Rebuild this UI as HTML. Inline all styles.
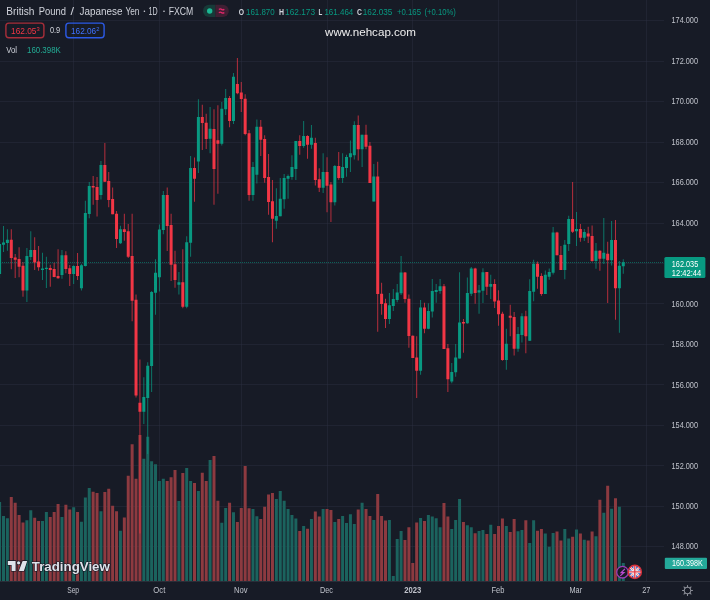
<!DOCTYPE html><html><head><meta charset="utf-8"><style>
html,body{margin:0;padding:0;width:710px;height:600px;overflow:hidden;background:#171b26}
svg{position:absolute;left:0;top:0;will-change:transform;font-family:"Liberation Sans",sans-serif}
</style></head><body>
<svg width="710" height="600" viewBox="0 0 710 600">
<rect x="0" y="0" width="710" height="600" fill="#171b26"/>
<path d="M0 20.5H664M0 61.5H664M0 101.5H664M0 142.5H664M0 182.5H664M0 223.5H664M0 263.5H664M0 303.5H664M0 344.5H664M0 384.5H664M0 425.5H664M0 465.5H664M0 506.5H664M0 546.5H664" stroke="#2e3342" stroke-opacity="0.42" stroke-width="1" fill="none"/>
<path d="M73.5 0V581M159.5 0V581M241.5 0V581M327.5 0V581M412.5 0V581M498.5 0V581M576.5 0V581M646.5 0V581" stroke="#2e3342" stroke-opacity="0.42" stroke-width="1" fill="none"/>
<path d="M-1.90 502.00h3V581h-3ZM2.00 516.00h3V581h-3ZM5.90 518.30h3V581h-3ZM25.39 520.30h3V581h-3ZM29.28 510.20h3V581h-3ZM40.98 521.00h3V581h-3ZM44.88 512.10h3V581h-3ZM60.47 517.00h3V581h-3ZM72.16 507.30h3V581h-3ZM79.96 521.70h3V581h-3ZM83.86 497.50h3V581h-3ZM87.75 488.00h3V581h-3ZM99.45 511.30h3V581h-3ZM118.94 530.80h3V581h-3ZM142.33 458.70h3V581h-3ZM146.22 436.70h3V581h-3ZM150.12 461.30h3V581h-3ZM154.02 464.20h3V581h-3ZM157.92 481.00h3V581h-3ZM161.82 478.70h3V581h-3ZM177.41 501.00h3V581h-3ZM185.20 468.00h3V581h-3ZM189.10 481.00h3V581h-3ZM196.90 491.00h3V581h-3ZM208.59 460.00h3V581h-3ZM220.29 522.70h3V581h-3ZM224.18 508.00h3V581h-3ZM231.98 512.30h3V581h-3ZM251.47 509.00h3V581h-3ZM255.37 516.30h3V581h-3ZM274.86 499.00h3V581h-3ZM278.76 491.00h3V581h-3ZM282.65 500.70h3V581h-3ZM286.55 509.00h3V581h-3ZM290.45 515.00h3V581h-3ZM294.35 518.40h3V581h-3ZM302.14 526.00h3V581h-3ZM309.94 519.00h3V581h-3ZM321.63 509.00h3V581h-3ZM333.33 522.00h3V581h-3ZM341.12 516.00h3V581h-3ZM345.02 523.00h3V581h-3ZM348.92 514.30h3V581h-3ZM352.82 524.00h3V581h-3ZM360.61 502.70h3V581h-3ZM372.31 520.00h3V581h-3ZM387.90 520.00h3V581h-3ZM391.80 575.90h3V581h-3ZM395.70 539.00h3V581h-3ZM399.59 531.00h3V581h-3ZM419.08 518.00h3V581h-3ZM426.88 515.00h3V581h-3ZM430.78 516.40h3V581h-3ZM434.68 518.30h3V581h-3ZM438.57 527.30h3V581h-3ZM450.27 529.00h3V581h-3ZM454.17 520.00h3V581h-3ZM458.06 499.00h3V581h-3ZM465.86 525.30h3V581h-3ZM469.76 527.30h3V581h-3ZM477.55 531.00h3V581h-3ZM481.45 530.00h3V581h-3ZM489.25 524.70h3V581h-3ZM504.84 526.00h3V581h-3ZM516.53 531.30h3V581h-3ZM520.43 530.00h3V581h-3ZM528.23 543.00h3V581h-3ZM532.13 520.30h3V581h-3ZM543.82 533.60h3V581h-3ZM547.72 546.80h3V581h-3ZM551.62 533.00h3V581h-3ZM563.31 528.90h3V581h-3ZM567.21 538.40h3V581h-3ZM575.00 529.40h3V581h-3ZM582.80 539.70h3V581h-3ZM594.49 536.20h3V581h-3ZM602.29 512.70h3V581h-3ZM610.09 508.80h3V581h-3ZM617.88 506.70h3V581h-3ZM621.78 563.10h3V581h-3Z" fill="#1b635e"/>
<path d="M9.79 497.10h3V581h-3ZM13.69 502.80h3V581h-3ZM17.59 515.00h3V581h-3ZM21.49 522.60h3V581h-3ZM33.18 517.70h3V581h-3ZM37.08 521.00h3V581h-3ZM48.77 517.00h3V581h-3ZM52.67 512.10h3V581h-3ZM56.57 503.90h3V581h-3ZM64.37 504.80h3V581h-3ZM68.26 509.50h3V581h-3ZM76.06 512.10h3V581h-3ZM91.65 491.70h3V581h-3ZM95.55 493.00h3V581h-3ZM103.35 492.00h3V581h-3ZM107.24 488.70h3V581h-3ZM111.14 505.80h3V581h-3ZM115.04 511.30h3V581h-3ZM122.84 517.50h3V581h-3ZM126.73 475.80h3V581h-3ZM130.63 444.20h3V581h-3ZM134.53 478.70h3V581h-3ZM138.43 435.00h3V581h-3ZM165.71 481.00h3V581h-3ZM169.61 477.30h3V581h-3ZM173.51 470.00h3V581h-3ZM181.31 473.00h3V581h-3ZM193.00 483.00h3V581h-3ZM200.80 472.70h3V581h-3ZM204.69 481.00h3V581h-3ZM212.49 456.00h3V581h-3ZM216.39 500.70h3V581h-3ZM228.08 502.70h3V581h-3ZM235.88 522.00h3V581h-3ZM239.78 508.00h3V581h-3ZM243.67 466.00h3V581h-3ZM247.57 508.30h3V581h-3ZM259.27 519.00h3V581h-3ZM263.16 506.70h3V581h-3ZM267.06 494.40h3V581h-3ZM270.96 493.00h3V581h-3ZM298.25 531.00h3V581h-3ZM306.04 528.70h3V581h-3ZM313.84 511.60h3V581h-3ZM317.74 516.40h3V581h-3ZM325.53 509.00h3V581h-3ZM329.43 510.00h3V581h-3ZM337.23 519.00h3V581h-3ZM356.72 509.60h3V581h-3ZM364.51 509.00h3V581h-3ZM368.41 516.00h3V581h-3ZM376.21 494.00h3V581h-3ZM380.10 516.00h3V581h-3ZM384.00 520.40h3V581h-3ZM403.49 540.00h3V581h-3ZM407.39 527.30h3V581h-3ZM411.29 563.00h3V581h-3ZM415.19 522.40h3V581h-3ZM422.98 521.00h3V581h-3ZM442.47 503.00h3V581h-3ZM446.37 516.40h3V581h-3ZM461.96 522.00h3V581h-3ZM473.66 533.30h3V581h-3ZM485.35 534.00h3V581h-3ZM493.15 534.00h3V581h-3ZM497.04 526.00h3V581h-3ZM500.94 518.40h3V581h-3ZM508.74 532.00h3V581h-3ZM512.64 519.00h3V581h-3ZM524.33 520.30h3V581h-3ZM536.02 530.70h3V581h-3ZM539.92 528.90h3V581h-3ZM555.51 531.40h3V581h-3ZM559.41 540.50h3V581h-3ZM571.11 536.80h3V581h-3ZM578.90 533.60h3V581h-3ZM586.70 540.50h3V581h-3ZM590.60 531.40h3V581h-3ZM598.39 499.80h3V581h-3ZM606.19 485.80h3V581h-3ZM613.98 498.20h3V581h-3Z" fill="#8d3a40"/>
<line x1="0" y1="262.5" x2="664" y2="262.5" stroke="#089981" stroke-width="1" stroke-dasharray="1,1" stroke-opacity="0.55"/>
<path d="M-0.90 240.00h1V278.00h-1ZM3.00 226.00h1V252.00h-1ZM6.90 229.30h1V250.70h-1ZM26.39 248.00h1V302.00h-1ZM30.28 231.30h1V260.00h-1ZM41.98 252.70h1V280.00h-1ZM45.88 256.70h1V288.00h-1ZM61.47 250.00h1V278.70h-1ZM73.16 265.30h1V284.00h-1ZM80.96 264.00h1V290.40h-1ZM84.86 200.70h1V266.50h-1ZM88.75 182.00h1V218.30h-1ZM100.45 161.00h1V199.60h-1ZM119.94 225.70h1V244.00h-1ZM143.33 377.30h1V424.00h-1ZM147.22 362.30h1V454.00h-1ZM151.12 291.00h1V392.00h-1ZM155.02 259.30h1V314.70h-1ZM158.92 224.60h1V291.50h-1ZM162.82 191.00h1V234.20h-1ZM178.41 272.00h1V294.50h-1ZM186.20 236.30h1V308.30h-1ZM190.10 156.00h1V256.70h-1ZM197.90 99.30h1V173.00h-1ZM209.59 107.00h1V153.30h-1ZM221.29 102.00h1V145.60h-1ZM225.18 89.00h1V115.00h-1ZM232.98 73.00h1V124.00h-1ZM252.47 162.00h1V200.80h-1ZM256.37 119.60h1V183.40h-1ZM275.86 188.30h1V228.70h-1ZM279.76 178.00h1V216.30h-1ZM283.65 174.00h1V208.70h-1ZM287.55 174.40h1V198.70h-1ZM291.45 155.30h1V179.70h-1ZM295.35 141.00h1V180.00h-1ZM303.14 121.00h1V147.70h-1ZM310.94 125.00h1V148.70h-1ZM322.63 153.30h1V193.00h-1ZM334.33 165.00h1V205.40h-1ZM342.12 153.30h1V183.00h-1ZM346.02 154.70h1V176.70h-1ZM349.92 140.40h1V172.00h-1ZM353.82 121.30h1V159.60h-1ZM361.61 134.70h1V167.00h-1ZM373.31 164.00h1V201.40h-1ZM388.90 293.00h1V324.00h-1ZM392.80 289.00h1V311.00h-1ZM396.70 284.00h1V302.30h-1ZM400.59 256.00h1V295.00h-1ZM420.08 300.00h1V374.70h-1ZM427.88 303.30h1V329.30h-1ZM431.78 279.00h1V317.50h-1ZM435.68 284.00h1V302.70h-1ZM439.57 279.00h1V293.70h-1ZM451.27 363.00h1V383.30h-1ZM455.17 344.00h1V376.70h-1ZM459.06 272.30h1V358.40h-1ZM466.86 277.40h1V323.70h-1ZM470.76 267.00h1V296.00h-1ZM478.55 285.00h1V313.70h-1ZM482.45 268.30h1V303.00h-1ZM490.25 274.70h1V299.00h-1ZM505.84 328.75h1V369.80h-1ZM517.53 327.00h1V351.70h-1ZM521.43 313.30h1V342.50h-1ZM529.23 279.30h1V341.00h-1ZM533.13 259.70h1V301.30h-1ZM544.82 270.50h1V294.00h-1ZM548.72 268.50h1V279.70h-1ZM552.62 227.00h1V274.60h-1ZM564.31 240.00h1V279.30h-1ZM568.21 215.70h1V251.00h-1ZM576.00 212.00h1V246.00h-1ZM583.80 229.00h1V241.00h-1ZM595.49 243.00h1V268.80h-1ZM603.29 218.00h1V264.00h-1ZM611.09 221.00h1V265.50h-1ZM618.88 261.00h1V332.70h-1ZM622.78 259.20h1V273.75h-1Z" fill="#089981" fill-opacity="0.72"/>
<path d="M-1.90 244.00h3v30.00h-3ZM2.00 242.40h3v2.30h-3ZM5.90 239.70h3v3.20h-3ZM25.39 256.00h3v34.40h-3ZM29.28 250.00h3v7.00h-3ZM40.98 268.50h3v1.40h-3ZM44.88 267.70h3v1.30h-3ZM60.47 255.30h3v19.70h-3ZM72.16 266.00h3v8.00h-3ZM79.96 265.30h3v23.00h-3ZM83.86 213.00h3v53.00h-3ZM87.75 186.00h3v28.00h-3ZM99.45 165.00h3v30.00h-3ZM118.94 229.30h3v14.00h-3ZM142.33 397.00h3v14.80h-3ZM146.22 365.70h3v32.30h-3ZM150.12 292.00h3v74.00h-3ZM154.02 272.70h3v20.00h-3ZM157.92 229.50h3v47.70h-3ZM161.82 195.10h3v35.00h-3ZM177.41 282.20h3v2.50h-3ZM185.20 242.30h3v64.50h-3ZM189.10 168.00h3v74.70h-3ZM196.90 117.00h3v44.60h-3ZM208.59 128.70h3v10.00h-3ZM220.29 108.70h3v35.00h-3ZM224.18 98.00h3v11.30h-3ZM231.98 76.70h3v44.30h-3ZM251.47 167.00h3v28.00h-3ZM255.37 126.70h3v48.00h-3ZM274.86 216.00h3v4.70h-3ZM278.76 198.70h3v17.60h-3ZM282.65 178.00h3v21.30h-3ZM286.55 176.00h3v2.70h-3ZM290.45 167.00h3v10.00h-3ZM294.35 141.00h3v28.00h-3ZM302.14 136.00h3v10.00h-3ZM309.94 137.70h3v7.00h-3ZM321.63 172.00h3v15.70h-3ZM333.33 166.00h3v36.30h-3ZM341.12 167.00h3v11.00h-3ZM345.02 157.00h3v11.00h-3ZM348.92 153.30h3v4.00h-3ZM352.82 125.00h3v30.30h-3ZM360.61 134.70h3v14.60h-3ZM372.31 176.60h3v24.80h-3ZM387.90 305.30h3v13.70h-3ZM391.80 299.00h3v7.00h-3ZM395.70 292.40h3v7.60h-3ZM399.59 272.40h3v20.90h-3ZM419.08 307.60h3v63.10h-3ZM426.88 311.00h3v17.70h-3ZM430.78 291.00h3v20.60h-3ZM434.68 290.00h3v2.00h-3ZM438.57 286.30h3v4.70h-3ZM450.27 372.00h3v9.60h-3ZM454.17 357.60h3v14.70h-3ZM458.06 322.50h3v35.90h-3ZM465.86 293.00h3v30.30h-3ZM469.76 268.60h3v25.10h-3ZM477.55 290.30h3v2.30h-3ZM481.45 272.30h3v18.40h-3ZM489.25 284.00h3v2.70h-3ZM504.84 343.75h3v16.25h-3ZM516.53 334.00h3v14.75h-3ZM520.43 316.30h3v18.70h-3ZM528.23 291.00h3v49.80h-3ZM532.13 263.70h3v28.00h-3ZM543.82 274.80h3v19.20h-3ZM547.72 272.00h3v4.70h-3ZM551.62 232.60h3v40.10h-3ZM563.31 244.80h3v25.20h-3ZM567.21 219.00h3v25.00h-3ZM575.00 229.00h3v2.30h-3ZM582.80 232.00h3v5.70h-3ZM594.49 250.80h3v10.20h-3ZM602.29 252.75h3v6.00h-3ZM610.09 240.00h3v20.25h-3ZM617.88 265.80h3v22.50h-3ZM621.78 262.20h3v4.05h-3Z" fill="#089981"/>
<path d="M10.79 229.30h1V269.30h-1ZM14.69 254.00h1V278.00h-1ZM18.59 247.30h1V277.30h-1ZM22.49 262.00h1V296.70h-1ZM34.18 237.30h1V270.00h-1ZM38.08 246.00h1V270.70h-1ZM49.77 264.70h1V286.70h-1ZM53.67 262.70h1V277.30h-1ZM57.57 249.30h1V278.70h-1ZM65.37 251.30h1V273.30h-1ZM69.26 265.00h1V286.00h-1ZM77.06 253.00h1V280.00h-1ZM92.65 176.00h1V204.70h-1ZM96.55 177.00h1V216.40h-1ZM104.35 143.00h1V182.00h-1ZM108.24 172.00h1V207.30h-1ZM112.14 187.60h1V214.30h-1ZM116.04 211.00h1V248.00h-1ZM123.84 213.70h1V240.70h-1ZM127.73 224.00h1V258.00h-1ZM131.63 213.70h1V321.30h-1ZM135.53 294.40h1V397.50h-1ZM139.43 359.60h1V533.50h-1ZM166.71 187.50h1V251.00h-1ZM170.61 213.80h1V281.00h-1ZM174.51 250.70h1V287.70h-1ZM182.31 249.20h1V308.30h-1ZM194.00 157.60h1V201.70h-1ZM201.80 104.70h1V150.00h-1ZM205.69 113.70h1V149.00h-1ZM213.49 109.30h1V204.80h-1ZM217.39 105.30h1V193.80h-1ZM229.08 96.00h1V127.30h-1ZM236.88 58.00h1V94.30h-1ZM240.78 82.00h1V112.00h-1ZM244.67 94.30h1V135.30h-1ZM248.57 130.00h1V200.80h-1ZM260.27 120.00h1V156.00h-1ZM264.16 135.30h1V182.70h-1ZM268.06 154.00h1V214.70h-1ZM271.96 180.00h1V242.30h-1ZM299.25 135.30h1V154.70h-1ZM307.04 135.30h1V158.70h-1ZM314.84 137.70h1V185.60h-1ZM318.74 168.30h1V192.00h-1ZM326.53 157.30h1V212.30h-1ZM330.43 182.00h1V222.00h-1ZM338.23 152.00h1V179.70h-1ZM357.72 115.60h1V160.40h-1ZM365.51 124.70h1V149.30h-1ZM369.41 142.00h1V183.00h-1ZM377.21 161.70h1V331.70h-1ZM381.10 282.70h1V314.70h-1ZM385.00 298.70h1V328.00h-1ZM404.49 272.00h1V302.70h-1ZM408.39 294.50h1V347.70h-1ZM412.29 335.50h1V358.00h-1ZM416.19 336.30h1V398.00h-1ZM423.98 302.70h1V333.30h-1ZM443.47 284.00h1V349.00h-1ZM447.37 344.00h1V392.00h-1ZM462.96 319.00h1V352.70h-1ZM474.66 267.70h1V303.70h-1ZM486.35 272.00h1V295.00h-1ZM494.15 279.30h1V308.00h-1ZM498.04 290.30h1V325.80h-1ZM501.94 311.70h1V360.70h-1ZM509.74 304.80h1V336.30h-1ZM513.64 312.00h1V355.40h-1ZM525.33 310.80h1V353.30h-1ZM537.02 261.60h1V288.70h-1ZM540.92 273.30h1V295.70h-1ZM556.51 231.70h1V255.30h-1ZM560.41 246.00h1V270.00h-1ZM572.11 182.00h1V233.00h-1ZM579.90 224.00h1V241.70h-1ZM587.70 226.70h1V243.00h-1ZM591.60 225.40h1V261.75h-1ZM599.39 250.30h1V270.75h-1ZM607.19 241.70h1V303.00h-1ZM614.98 220.00h1V319.80h-1Z" fill="#f23645" fill-opacity="0.72"/>
<path d="M9.79 239.70h3v18.30h-3ZM13.69 257.60h3v2.10h-3ZM17.59 258.90h3v7.80h-3ZM21.49 265.70h3v24.70h-3ZM33.18 250.00h3v12.40h-3ZM37.08 261.60h3v5.70h-3ZM48.77 268.00h3v2.00h-3ZM52.67 269.00h3v8.00h-3ZM56.57 276.00h3v2.30h-3ZM64.37 255.30h3v13.70h-3ZM68.26 268.30h3v5.70h-3ZM76.06 266.00h3v10.00h-3ZM91.65 186.00h3v1.60h-3ZM95.55 187.00h3v13.00h-3ZM103.35 165.00h3v16.70h-3ZM107.24 181.00h3v19.00h-3ZM111.14 199.00h3v15.30h-3ZM115.04 213.70h3v25.30h-3ZM122.84 229.30h3v2.70h-3ZM126.73 231.30h3v25.40h-3ZM130.63 256.00h3v44.70h-3ZM134.53 299.70h3v95.90h-3ZM138.43 402.80h3v9.00h-3ZM165.71 195.10h3v30.90h-3ZM169.61 225.00h3v39.80h-3ZM173.51 264.20h3v15.80h-3ZM181.31 282.20h3v24.60h-3ZM193.00 168.00h3v10.80h-3ZM200.80 117.00h3v6.00h-3ZM204.69 122.70h3v16.30h-3ZM212.49 129.00h3v40.00h-3ZM216.39 140.30h3v3.40h-3ZM228.08 98.00h3v23.00h-3ZM235.88 84.00h3v9.30h-3ZM239.78 92.40h3v6.60h-3ZM243.67 98.70h3v35.30h-3ZM247.57 133.30h3v61.70h-3ZM259.27 126.70h3v13.00h-3ZM263.16 139.00h3v39.00h-3ZM267.06 177.00h3v25.00h-3ZM270.96 201.30h3v17.40h-3ZM298.25 141.00h3v5.00h-3ZM306.04 136.00h3v8.70h-3ZM313.84 143.00h3v37.00h-3ZM317.74 179.30h3v8.40h-3ZM325.53 172.00h3v13.70h-3ZM329.43 184.60h3v17.70h-3ZM337.23 166.00h3v12.00h-3ZM356.72 125.00h3v24.30h-3ZM364.51 134.70h3v12.00h-3ZM368.41 145.70h3v37.30h-3ZM376.21 176.60h3v117.40h-3ZM380.10 293.70h3v10.30h-3ZM384.00 303.30h3v15.70h-3ZM403.49 272.40h3v26.60h-3ZM407.39 298.70h3v37.30h-3ZM411.29 335.70h3v22.30h-3ZM415.19 357.60h3v13.10h-3ZM422.98 307.60h3v21.10h-3ZM442.47 286.30h3v62.70h-3ZM446.37 348.30h3v31.00h-3ZM461.96 322.00h3v1.50h-3ZM473.66 268.60h3v24.40h-3ZM485.35 272.00h3v14.70h-3ZM493.15 284.00h3v17.40h-3ZM497.04 300.60h3v13.70h-3ZM500.94 313.70h3v46.30h-3ZM508.74 315.80h3v1.90h-3ZM512.64 317.00h3v31.75h-3ZM524.33 316.30h3v20.00h-3ZM536.02 263.70h3v13.00h-3ZM539.92 276.00h3v18.00h-3ZM555.51 232.60h3v22.70h-3ZM559.41 255.00h3v15.00h-3ZM571.11 219.00h3v12.70h-3ZM578.90 229.00h3v8.70h-3ZM586.70 233.40h3v3.20h-3ZM590.60 236.00h3v25.00h-3ZM598.39 250.80h3v7.95h-3ZM606.19 253.80h3v6.45h-3ZM613.98 240.00h3v48.30h-3Z" fill="#f23645"/>
<path d="M0 581.5H710" stroke="#2a2e39" stroke-width="1"/>
<text x="671.5" y="23.3" font-size="8.7" fill="#c1c4cc" textLength="26.5" lengthAdjust="spacingAndGlyphs">174.000</text>
<text x="671.5" y="63.8" font-size="8.7" fill="#c1c4cc" textLength="26.5" lengthAdjust="spacingAndGlyphs">172.000</text>
<text x="671.5" y="104.2" font-size="8.7" fill="#c1c4cc" textLength="26.5" lengthAdjust="spacingAndGlyphs">170.000</text>
<text x="671.5" y="144.7" font-size="8.7" fill="#c1c4cc" textLength="26.5" lengthAdjust="spacingAndGlyphs">168.000</text>
<text x="671.5" y="185.2" font-size="8.7" fill="#c1c4cc" textLength="26.5" lengthAdjust="spacingAndGlyphs">166.000</text>
<text x="671.5" y="225.6" font-size="8.7" fill="#c1c4cc" textLength="26.5" lengthAdjust="spacingAndGlyphs">164.000</text>
<text x="671.5" y="306.6" font-size="8.7" fill="#c1c4cc" textLength="26.5" lengthAdjust="spacingAndGlyphs">160.000</text>
<text x="671.5" y="347.1" font-size="8.7" fill="#c1c4cc" textLength="26.5" lengthAdjust="spacingAndGlyphs">158.000</text>
<text x="671.5" y="387.5" font-size="8.7" fill="#c1c4cc" textLength="26.5" lengthAdjust="spacingAndGlyphs">156.000</text>
<text x="671.5" y="428.0" font-size="8.7" fill="#c1c4cc" textLength="26.5" lengthAdjust="spacingAndGlyphs">154.000</text>
<text x="671.5" y="468.5" font-size="8.7" fill="#c1c4cc" textLength="26.5" lengthAdjust="spacingAndGlyphs">152.000</text>
<text x="671.5" y="508.9" font-size="8.7" fill="#c1c4cc" textLength="26.5" lengthAdjust="spacingAndGlyphs">150.000</text>
<text x="671.5" y="549.4" font-size="8.7" fill="#c1c4cc" textLength="26.5" lengthAdjust="spacingAndGlyphs">148.000</text>
<rect x="664.4" y="257" width="41" height="21" rx="1.5" fill="#089981"/>
<text x="671.8" y="266.6" font-size="8.5" fill="#ffffff" textLength="26.4" lengthAdjust="spacingAndGlyphs">162.035</text>
<text x="671.8" y="275.9" font-size="8.5" fill="#ffffff" textLength="29.3" lengthAdjust="spacingAndGlyphs">12:42:44</text>
<rect x="664.8" y="557.7" width="42.2" height="11.2" rx="1" fill="#24a99a"/>
<text x="672" y="566.4" font-size="8.5" fill="#ffffff" textLength="30.8" lengthAdjust="spacingAndGlyphs">160.398K</text>
<text x="67.2" y="592.8" font-size="8.7" fill="#c1c4cc" textLength="11.9" lengthAdjust="spacingAndGlyphs">Sep</text>
<text x="153.3" y="592.8" font-size="8.7" fill="#c1c4cc" textLength="12.0" lengthAdjust="spacingAndGlyphs">Oct</text>
<text x="234.1" y="592.8" font-size="8.7" fill="#c1c4cc" textLength="13.5" lengthAdjust="spacingAndGlyphs">Nov</text>
<text x="320.0" y="592.8" font-size="8.7" fill="#c1c4cc" textLength="13.0" lengthAdjust="spacingAndGlyphs">Dec</text>
<text x="404.2" y="592.8" font-size="8.7" fill="#c1c4cc" textLength="17.0" lengthAdjust="spacingAndGlyphs" font-weight="bold">2023</text>
<text x="491.5" y="592.8" font-size="8.7" fill="#c1c4cc" textLength="13.0" lengthAdjust="spacingAndGlyphs">Feb</text>
<text x="569.5" y="592.8" font-size="8.7" fill="#c1c4cc" textLength="12.6" lengthAdjust="spacingAndGlyphs">Mar</text>
<text x="642.2" y="592.8" font-size="8.7" fill="#c1c4cc" textLength="8.2" lengthAdjust="spacingAndGlyphs">27</text>
<circle cx="687.5" cy="590.5" r="3.4" fill="none" stroke="#8a8d96" stroke-width="1"/>
<path d="M687.50 587.20L687.50 585.50M689.83 588.17L691.04 586.96M690.80 590.50L692.50 590.50M689.83 592.83L691.04 594.04M687.50 593.80L687.50 595.50M685.17 592.83L683.96 594.04M684.20 590.50L682.50 590.50M685.17 588.17L683.96 586.96" stroke="#8a8d96" stroke-width="1.1" stroke-linecap="round"/>
<text x="6.3" y="15" font-size="10.5" fill="#d1d4dc" textLength="28.2" lengthAdjust="spacingAndGlyphs">British</text>
<text x="38.7" y="15" font-size="10.5" fill="#d1d4dc" textLength="27.2" lengthAdjust="spacingAndGlyphs">Pound</text>
<text x="70.4" y="15" font-size="10.5" fill="#d1d4dc" textLength="3.5" lengthAdjust="spacingAndGlyphs">/</text>
<text x="79.6" y="15" font-size="10.5" fill="#d1d4dc" textLength="42.9" lengthAdjust="spacingAndGlyphs">Japanese</text>
<text x="125.4" y="15" font-size="10.5" fill="#d1d4dc" textLength="14.0" lengthAdjust="spacingAndGlyphs">Yen</text>
<text x="148.6" y="15" font-size="10.5" fill="#d1d4dc" textLength="9.1" lengthAdjust="spacingAndGlyphs">1D</text>
<text x="168.7" y="15" font-size="10.5" fill="#d1d4dc" textLength="24.5" lengthAdjust="spacingAndGlyphs">FXCM</text>
<circle cx="144.4" cy="11.3" r="0.8" fill="#d1d4dc"/><circle cx="164" cy="11.3" r="0.8" fill="#d1d4dc"/>
<path d="M209.1 4.8H215.5V17H209.1A6.1 6.1 0 0 1 209.1 4.8Z" fill="#173a38"/>
<path d="M215.5 4.8H222.7A6.1 6.1 0 0 1 222.7 17H215.5Z" fill="#3f1f33"/>
<circle cx="209.7" cy="11" r="2.7" fill="#1bb894"/>
<path d="M218.9 9.6Q220.2 8.4 221.6 9.4T224.3 9.2M218.9 12.8Q220.2 11.6 221.6 12.6T224.3 12.4" stroke="#e2276a" stroke-width="1.3" fill="none"/>
<text x="238.8" y="15.2" font-size="8.8" fill="#d1d4dc" textLength="5.3" lengthAdjust="spacingAndGlyphs" font-weight="bold">O</text>
<text x="246.0" y="15.2" font-size="8.8" fill="#089981" textLength="28.7" lengthAdjust="spacingAndGlyphs">161.870</text>
<text x="279.0" y="15.2" font-size="8.8" fill="#d1d4dc" textLength="5.0" lengthAdjust="spacingAndGlyphs" font-weight="bold">H</text>
<text x="285.1" y="15.2" font-size="8.8" fill="#089981" textLength="29.9" lengthAdjust="spacingAndGlyphs">162.173</text>
<text x="318.5" y="15.2" font-size="8.8" fill="#d1d4dc" textLength="3.8" lengthAdjust="spacingAndGlyphs" font-weight="bold">L</text>
<text x="324.4" y="15.2" font-size="8.8" fill="#089981" textLength="28.9" lengthAdjust="spacingAndGlyphs">161.464</text>
<text x="356.9" y="15.2" font-size="8.8" fill="#d1d4dc" textLength="4.9" lengthAdjust="spacingAndGlyphs" font-weight="bold">C</text>
<text x="362.8" y="15.2" font-size="8.8" fill="#089981" textLength="29.6" lengthAdjust="spacingAndGlyphs">162.035</text>
<text x="397.0" y="15.2" font-size="8.8" fill="#089981" textLength="24.0" lengthAdjust="spacingAndGlyphs">+0.165</text>
<text x="424.5" y="15.2" font-size="8.8" fill="#089981" textLength="31.3" lengthAdjust="spacingAndGlyphs">(+0.10%)</text>
<text x="325" y="35.8" font-size="11.5" fill="#efefef" textLength="91" lengthAdjust="spacingAndGlyphs">www.nehcap.com</text>
<rect x="5.9" y="23.1" width="38" height="14.6" rx="3" fill="none" stroke="#a82e39" stroke-width="1.4"/>
<text x="11.0" y="33.6" font-size="8.8" fill="#f23645" textLength="25.5" lengthAdjust="spacingAndGlyphs">162.05</text>
<text x="36.6" y="30.9" font-size="5.8" fill="#f23645">3</text>
<text x="49.9" y="33.2" font-size="8.8" fill="#d1d4dc" textLength="10.3" lengthAdjust="spacingAndGlyphs">0.9</text>
<rect x="65.9" y="23.1" width="38.2" height="14.6" rx="3" fill="none" stroke="#2b5ae6" stroke-width="1.4"/>
<text x="71.0" y="33.8" font-size="8.8" fill="#3f72ff" textLength="25.2" lengthAdjust="spacingAndGlyphs">162.06</text>
<text x="96.3" y="30.9" font-size="5.8" fill="#3f72ff">2</text>
<text x="6.2" y="52.8" font-size="8.8" fill="#d1d4dc" textLength="10.8" lengthAdjust="spacingAndGlyphs">Vol</text>
<text x="27.0" y="52.8" font-size="8.8" fill="#22ab94" textLength="33.8" lengthAdjust="spacingAndGlyphs">160.398K</text>
<g fill="#e0e3eb" stroke="#131722" stroke-width="1.2" paint-order="stroke" stroke-linejoin="round">
<path d="M7.8 560.9H15.6V571H11.6V564.9H7.8Z"/>
<circle cx="18.6" cy="562.8" r="1.6"/>
<path d="M22.6 560.9H27.2L23.9 571H18.8Z"/>
<text x="31.8" y="571.1" font-size="13" font-weight="bold" textLength="78" lengthAdjust="spacingAndGlyphs">TradingView</text>
</g>
<circle cx="622.5" cy="572.2" r="5.8" fill="#171b26" stroke="#9b3cb7" stroke-width="1.3"/>
<path d="M624.9 568.9L621.2 572.5H623.9L620.3 575.9" fill="none" stroke="#b84ad0" stroke-width="1.25" stroke-linejoin="miter"/>
<defs><clipPath id="fc"><circle cx="634.8" cy="571.9" r="6.4"/></clipPath></defs>
<g clip-path="url(#fc)"><rect x="628" y="565" width="14" height="14" fill="#2b55c0"/>
<path d="M628.3 565.4L641.3 578.4M641.3 565.4L628.3 578.4" stroke="#f2f2f2" stroke-width="2.2"/>
<path d="M628.3 565.4L641.3 578.4M641.3 565.4L628.3 578.4" stroke="#e8525a" stroke-width="0.7"/>
<path d="M634.8 565V579M628 571.9H642" stroke="#f4f4f4" stroke-width="2.8"/>
<path d="M634.8 565V579M628 571.9H642" stroke="#e8414b" stroke-width="1.4"/></g>
<circle cx="634.8" cy="571.9" r="6.6" fill="none" stroke="#d9313b" stroke-width="1.4"/>
</svg></body></html>
